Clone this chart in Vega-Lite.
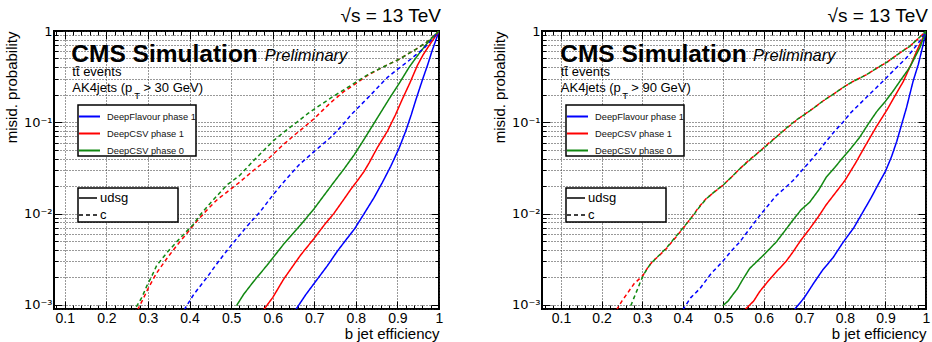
{
  "$schema": "https://vega.github.io/schema/vega-lite/v6.json",
  "padding": {"left": 3, "top": 6, "right": 2, "bottom": 2},
  "bounds": "flush",
  "spacing": 103,
  "config": {
    "font": "Liberation Sans",
    "view": {"stroke": "black", "strokeWidth": 2},
    "axis": {"domain": false, "tickColor": "black", "labelColor": "black", "titleColor": "black", "labelFont": "Liberation Sans", "titleFont": "Liberation Sans", "minExtent": 0},
    "legend": {"strokeWidth": 1.5},
    "title": {"font": "Liberation Sans", "color": "black"}
  },
  "resolve": {
    "scale": {"x": "independent", "y": "independent", "color": "independent", "strokeDash": "independent"},
    "legend": {"color": "independent", "strokeDash": "independent"}
  },
  "datasets": {
    "left": [
      {"tagger": "DeepFlavour phase 1", "flav": "udsg", "eff": 0.655, "mis": 0.00088},
      {"tagger": "DeepFlavour phase 1", "flav": "udsg", "eff": 0.68, "mis": 0.0013},
      {"tagger": "DeepFlavour phase 1", "flav": "udsg", "eff": 0.707, "mis": 0.0019},
      {"tagger": "DeepFlavour phase 1", "flav": "udsg", "eff": 0.732, "mis": 0.0027},
      {"tagger": "DeepFlavour phase 1", "flav": "udsg", "eff": 0.756, "mis": 0.0039},
      {"tagger": "DeepFlavour phase 1", "flav": "udsg", "eff": 0.777, "mis": 0.0052},
      {"tagger": "DeepFlavour phase 1", "flav": "udsg", "eff": 0.797, "mis": 0.0068},
      {"tagger": "DeepFlavour phase 1", "flav": "udsg", "eff": 0.82, "mis": 0.0100},
      {"tagger": "DeepFlavour phase 1", "flav": "udsg", "eff": 0.844, "mis": 0.015},
      {"tagger": "DeepFlavour phase 1", "flav": "udsg", "eff": 0.864, "mis": 0.022},
      {"tagger": "DeepFlavour phase 1", "flav": "udsg", "eff": 0.884, "mis": 0.033},
      {"tagger": "DeepFlavour phase 1", "flav": "udsg", "eff": 0.904, "mis": 0.052},
      {"tagger": "DeepFlavour phase 1", "flav": "udsg", "eff": 0.920, "mis": 0.08},
      {"tagger": "DeepFlavour phase 1", "flav": "udsg", "eff": 0.933, "mis": 0.12},
      {"tagger": "DeepFlavour phase 1", "flav": "udsg", "eff": 0.945, "mis": 0.18},
      {"tagger": "DeepFlavour phase 1", "flav": "udsg", "eff": 0.96, "mis": 0.29},
      {"tagger": "DeepFlavour phase 1", "flav": "udsg", "eff": 0.973, "mis": 0.43},
      {"tagger": "DeepFlavour phase 1", "flav": "udsg", "eff": 0.983, "mis": 0.6},
      {"tagger": "DeepFlavour phase 1", "flav": "udsg", "eff": 0.991, "mis": 0.76},
      {"tagger": "DeepFlavour phase 1", "flav": "udsg", "eff": 1.0, "mis": 1.0},

      {"tagger": "DeepCSV phase 1", "flav": "udsg", "eff": 0.578, "mis": 0.00088},
      {"tagger": "DeepCSV phase 1", "flav": "udsg", "eff": 0.60, "mis": 0.0012},
      {"tagger": "DeepCSV phase 1", "flav": "udsg", "eff": 0.626, "mis": 0.0019},
      {"tagger": "DeepCSV phase 1", "flav": "udsg", "eff": 0.647, "mis": 0.0026},
      {"tagger": "DeepCSV phase 1", "flav": "udsg", "eff": 0.667, "mis": 0.0035},
      {"tagger": "DeepCSV phase 1", "flav": "udsg", "eff": 0.699, "mis": 0.0053},
      {"tagger": "DeepCSV phase 1", "flav": "udsg", "eff": 0.725, "mis": 0.0076},
      {"tagger": "DeepCSV phase 1", "flav": "udsg", "eff": 0.747, "mis": 0.0100},
      {"tagger": "DeepCSV phase 1", "flav": "udsg", "eff": 0.772, "mis": 0.0145},
      {"tagger": "DeepCSV phase 1", "flav": "udsg", "eff": 0.790, "mis": 0.019},
      {"tagger": "DeepCSV phase 1", "flav": "udsg", "eff": 0.804, "mis": 0.023},
      {"tagger": "DeepCSV phase 1", "flav": "udsg", "eff": 0.82, "mis": 0.029},
      {"tagger": "DeepCSV phase 1", "flav": "udsg", "eff": 0.832, "mis": 0.036},
      {"tagger": "DeepCSV phase 1", "flav": "udsg", "eff": 0.852, "mis": 0.053},
      {"tagger": "DeepCSV phase 1", "flav": "udsg", "eff": 0.876, "mis": 0.08},
      {"tagger": "DeepCSV phase 1", "flav": "udsg", "eff": 0.895, "mis": 0.12},
      {"tagger": "DeepCSV phase 1", "flav": "udsg", "eff": 0.912, "mis": 0.18},
      {"tagger": "DeepCSV phase 1", "flav": "udsg", "eff": 0.93, "mis": 0.27},
      {"tagger": "DeepCSV phase 1", "flav": "udsg", "eff": 0.948, "mis": 0.42},
      {"tagger": "DeepCSV phase 1", "flav": "udsg", "eff": 0.962, "mis": 0.55},
      {"tagger": "DeepCSV phase 1", "flav": "udsg", "eff": 0.975, "mis": 0.68},
      {"tagger": "DeepCSV phase 1", "flav": "udsg", "eff": 0.988, "mis": 0.83},
      {"tagger": "DeepCSV phase 1", "flav": "udsg", "eff": 1.0, "mis": 1.0},

      {"tagger": "DeepCSV phase 0", "flav": "udsg", "eff": 0.513, "mis": 0.00098},
      {"tagger": "DeepCSV phase 0", "flav": "udsg", "eff": 0.53, "mis": 0.0013},
      {"tagger": "DeepCSV phase 0", "flav": "udsg", "eff": 0.554, "mis": 0.0018},
      {"tagger": "DeepCSV phase 0", "flav": "udsg", "eff": 0.586, "mis": 0.0027},
      {"tagger": "DeepCSV phase 0", "flav": "udsg", "eff": 0.626, "mis": 0.0046},
      {"tagger": "DeepCSV phase 0", "flav": "udsg", "eff": 0.667, "mis": 0.0075},
      {"tagger": "DeepCSV phase 0", "flav": "udsg", "eff": 0.699, "mis": 0.0112},
      {"tagger": "DeepCSV phase 0", "flav": "udsg", "eff": 0.722, "mis": 0.0155},
      {"tagger": "DeepCSV phase 0", "flav": "udsg", "eff": 0.747, "mis": 0.022},
      {"tagger": "DeepCSV phase 0", "flav": "udsg", "eff": 0.772, "mis": 0.031},
      {"tagger": "DeepCSV phase 0", "flav": "udsg", "eff": 0.796, "mis": 0.044},
      {"tagger": "DeepCSV phase 0", "flav": "udsg", "eff": 0.815, "mis": 0.06},
      {"tagger": "DeepCSV phase 0", "flav": "udsg", "eff": 0.832, "mis": 0.08},
      {"tagger": "DeepCSV phase 0", "flav": "udsg", "eff": 0.856, "mis": 0.12},
      {"tagger": "DeepCSV phase 0", "flav": "udsg", "eff": 0.88, "mis": 0.18},
      {"tagger": "DeepCSV phase 0", "flav": "udsg", "eff": 0.905, "mis": 0.27},
      {"tagger": "DeepCSV phase 0", "flav": "udsg", "eff": 0.928, "mis": 0.40},
      {"tagger": "DeepCSV phase 0", "flav": "udsg", "eff": 0.95, "mis": 0.55},
      {"tagger": "DeepCSV phase 0", "flav": "udsg", "eff": 0.97, "mis": 0.72},
      {"tagger": "DeepCSV phase 0", "flav": "udsg", "eff": 0.985, "mis": 0.86},
      {"tagger": "DeepCSV phase 0", "flav": "udsg", "eff": 1.0, "mis": 1.0},

      {"tagger": "DeepFlavour phase 1", "flav": "c", "eff": 0.387, "mis": 0.00088},
      {"tagger": "DeepFlavour phase 1", "flav": "c", "eff": 0.41, "mis": 0.0013},
      {"tagger": "DeepFlavour phase 1", "flav": "c", "eff": 0.442, "mis": 0.0020},
      {"tagger": "DeepFlavour phase 1", "flav": "c", "eff": 0.47, "mis": 0.0030},
      {"tagger": "DeepFlavour phase 1", "flav": "c", "eff": 0.502, "mis": 0.0046},
      {"tagger": "DeepFlavour phase 1", "flav": "c", "eff": 0.542, "mis": 0.0076},
      {"tagger": "DeepFlavour phase 1", "flav": "c", "eff": 0.57, "mis": 0.0105},
      {"tagger": "DeepFlavour phase 1", "flav": "c", "eff": 0.603, "mis": 0.0165},
      {"tagger": "DeepFlavour phase 1", "flav": "c", "eff": 0.633, "mis": 0.024},
      {"tagger": "DeepFlavour phase 1", "flav": "c", "eff": 0.663, "mis": 0.034},
      {"tagger": "DeepFlavour phase 1", "flav": "c", "eff": 0.70, "mis": 0.048},
      {"tagger": "DeepFlavour phase 1", "flav": "c", "eff": 0.739, "mis": 0.068},
      {"tagger": "DeepFlavour phase 1", "flav": "c", "eff": 0.765, "mis": 0.09},
      {"tagger": "DeepFlavour phase 1", "flav": "c", "eff": 0.788, "mis": 0.12},
      {"tagger": "DeepFlavour phase 1", "flav": "c", "eff": 0.812, "mis": 0.155},
      {"tagger": "DeepFlavour phase 1", "flav": "c", "eff": 0.836, "mis": 0.20},
      {"tagger": "DeepFlavour phase 1", "flav": "c", "eff": 0.856, "mis": 0.25},
      {"tagger": "DeepFlavour phase 1", "flav": "c", "eff": 0.876, "mis": 0.31},
      {"tagger": "DeepFlavour phase 1", "flav": "c", "eff": 0.90, "mis": 0.38},
      {"tagger": "DeepFlavour phase 1", "flav": "c", "eff": 0.924, "mis": 0.46},
      {"tagger": "DeepFlavour phase 1", "flav": "c", "eff": 0.945, "mis": 0.55},
      {"tagger": "DeepFlavour phase 1", "flav": "c", "eff": 0.963, "mis": 0.64},
      {"tagger": "DeepFlavour phase 1", "flav": "c", "eff": 0.98, "mis": 0.78},
      {"tagger": "DeepFlavour phase 1", "flav": "c", "eff": 1.0, "mis": 1.0},

      {"tagger": "DeepCSV phase 1", "flav": "c", "eff": 0.275, "mis": 0.00088},
      {"tagger": "DeepCSV phase 1", "flav": "c", "eff": 0.29, "mis": 0.0012},
      {"tagger": "DeepCSV phase 1", "flav": "c", "eff": 0.30, "mis": 0.0015},
      {"tagger": "DeepCSV phase 1", "flav": "c", "eff": 0.32, "mis": 0.0022},
      {"tagger": "DeepCSV phase 1", "flav": "c", "eff": 0.345, "mis": 0.0032},
      {"tagger": "DeepCSV phase 1", "flav": "c", "eff": 0.37, "mis": 0.0045},
      {"tagger": "DeepCSV phase 1", "flav": "c", "eff": 0.39, "mis": 0.0058},
      {"tagger": "DeepCSV phase 1", "flav": "c", "eff": 0.415, "mis": 0.0080},
      {"tagger": "DeepCSV phase 1", "flav": "c", "eff": 0.44, "mis": 0.0107},
      {"tagger": "DeepCSV phase 1", "flav": "c", "eff": 0.465, "mis": 0.0140},
      {"tagger": "DeepCSV phase 1", "flav": "c", "eff": 0.49, "mis": 0.0172},
      {"tagger": "DeepCSV phase 1", "flav": "c", "eff": 0.52, "mis": 0.022},
      {"tagger": "DeepCSV phase 1", "flav": "c", "eff": 0.555, "mis": 0.030},
      {"tagger": "DeepCSV phase 1", "flav": "c", "eff": 0.59, "mis": 0.040},
      {"tagger": "DeepCSV phase 1", "flav": "c", "eff": 0.62, "mis": 0.054},
      {"tagger": "DeepCSV phase 1", "flav": "c", "eff": 0.65, "mis": 0.071},
      {"tagger": "DeepCSV phase 1", "flav": "c", "eff": 0.675, "mis": 0.088},
      {"tagger": "DeepCSV phase 1", "flav": "c", "eff": 0.70, "mis": 0.11},
      {"tagger": "DeepCSV phase 1", "flav": "c", "eff": 0.72, "mis": 0.135},
      {"tagger": "DeepCSV phase 1", "flav": "c", "eff": 0.74, "mis": 0.165},
      {"tagger": "DeepCSV phase 1", "flav": "c", "eff": 0.77, "mis": 0.215},
      {"tagger": "DeepCSV phase 1", "flav": "c", "eff": 0.80, "mis": 0.265},
      {"tagger": "DeepCSV phase 1", "flav": "c", "eff": 0.83, "mis": 0.33},
      {"tagger": "DeepCSV phase 1", "flav": "c", "eff": 0.864, "mis": 0.40},
      {"tagger": "DeepCSV phase 1", "flav": "c", "eff": 0.904, "mis": 0.49},
      {"tagger": "DeepCSV phase 1", "flav": "c", "eff": 0.944, "mis": 0.63},
      {"tagger": "DeepCSV phase 1", "flav": "c", "eff": 0.97, "mis": 0.75},
      {"tagger": "DeepCSV phase 1", "flav": "c", "eff": 0.99, "mis": 0.9},
      {"tagger": "DeepCSV phase 1", "flav": "c", "eff": 1.0, "mis": 1.0},

      {"tagger": "DeepCSV phase 0", "flav": "c", "eff": 0.272, "mis": 0.00095},
      {"tagger": "DeepCSV phase 0", "flav": "c", "eff": 0.285, "mis": 0.0012},
      {"tagger": "DeepCSV phase 0", "flav": "c", "eff": 0.297, "mis": 0.0016},
      {"tagger": "DeepCSV phase 0", "flav": "c", "eff": 0.31, "mis": 0.0021},
      {"tagger": "DeepCSV phase 0", "flav": "c", "eff": 0.321, "mis": 0.0027},
      {"tagger": "DeepCSV phase 0", "flav": "c", "eff": 0.345, "mis": 0.0037},
      {"tagger": "DeepCSV phase 0", "flav": "c", "eff": 0.369, "mis": 0.0049},
      {"tagger": "DeepCSV phase 0", "flav": "c", "eff": 0.39, "mis": 0.0062},
      {"tagger": "DeepCSV phase 0", "flav": "c", "eff": 0.409, "mis": 0.0076},
      {"tagger": "DeepCSV phase 0", "flav": "c", "eff": 0.425, "mis": 0.0096},
      {"tagger": "DeepCSV phase 0", "flav": "c", "eff": 0.45, "mis": 0.013},
      {"tagger": "DeepCSV phase 0", "flav": "c", "eff": 0.49, "mis": 0.0206},
      {"tagger": "DeepCSV phase 0", "flav": "c", "eff": 0.52, "mis": 0.026},
      {"tagger": "DeepCSV phase 0", "flav": "c", "eff": 0.554, "mis": 0.038},
      {"tagger": "DeepCSV phase 0", "flav": "c", "eff": 0.58, "mis": 0.050},
      {"tagger": "DeepCSV phase 0", "flav": "c", "eff": 0.602, "mis": 0.063},
      {"tagger": "DeepCSV phase 0", "flav": "c", "eff": 0.63, "mis": 0.080},
      {"tagger": "DeepCSV phase 0", "flav": "c", "eff": 0.658, "mis": 0.100},
      {"tagger": "DeepCSV phase 0", "flav": "c", "eff": 0.685, "mis": 0.125},
      {"tagger": "DeepCSV phase 0", "flav": "c", "eff": 0.715, "mis": 0.155},
      {"tagger": "DeepCSV phase 0", "flav": "c", "eff": 0.74, "mis": 0.185},
      {"tagger": "DeepCSV phase 0", "flav": "c", "eff": 0.77, "mis": 0.225},
      {"tagger": "DeepCSV phase 0", "flav": "c", "eff": 0.80, "mis": 0.275},
      {"tagger": "DeepCSV phase 0", "flav": "c", "eff": 0.83, "mis": 0.335},
      {"tagger": "DeepCSV phase 0", "flav": "c", "eff": 0.864, "mis": 0.40},
      {"tagger": "DeepCSV phase 0", "flav": "c", "eff": 0.904, "mis": 0.49},
      {"tagger": "DeepCSV phase 0", "flav": "c", "eff": 0.944, "mis": 0.63},
      {"tagger": "DeepCSV phase 0", "flav": "c", "eff": 0.97, "mis": 0.75},
      {"tagger": "DeepCSV phase 0", "flav": "c", "eff": 0.99, "mis": 0.9},
      {"tagger": "DeepCSV phase 0", "flav": "c", "eff": 1.0, "mis": 1.0}
    ],
    "right": [
      {"tagger": "DeepFlavour phase 1", "flav": "udsg", "eff": 0.675, "mis": 0.00088},
      {"tagger": "DeepFlavour phase 1", "flav": "udsg", "eff": 0.70, "mis": 0.0012},
      {"tagger": "DeepFlavour phase 1", "flav": "udsg", "eff": 0.722, "mis": 0.0017},
      {"tagger": "DeepFlavour phase 1", "flav": "udsg", "eff": 0.745, "mis": 0.0024},
      {"tagger": "DeepFlavour phase 1", "flav": "udsg", "eff": 0.771, "mis": 0.0033},
      {"tagger": "DeepFlavour phase 1", "flav": "udsg", "eff": 0.795, "mis": 0.0048},
      {"tagger": "DeepFlavour phase 1", "flav": "udsg", "eff": 0.822, "mis": 0.0070},
      {"tagger": "DeepFlavour phase 1", "flav": "udsg", "eff": 0.845, "mis": 0.0105},
      {"tagger": "DeepFlavour phase 1", "flav": "udsg", "eff": 0.865, "mis": 0.015},
      {"tagger": "DeepFlavour phase 1", "flav": "udsg", "eff": 0.885, "mis": 0.022},
      {"tagger": "DeepFlavour phase 1", "flav": "udsg", "eff": 0.90, "mis": 0.029},
      {"tagger": "DeepFlavour phase 1", "flav": "udsg", "eff": 0.915, "mis": 0.042},
      {"tagger": "DeepFlavour phase 1", "flav": "udsg", "eff": 0.928, "mis": 0.062},
      {"tagger": "DeepFlavour phase 1", "flav": "udsg", "eff": 0.94, "mis": 0.095},
      {"tagger": "DeepFlavour phase 1", "flav": "udsg", "eff": 0.952, "mis": 0.145},
      {"tagger": "DeepFlavour phase 1", "flav": "udsg", "eff": 0.968, "mis": 0.28},
      {"tagger": "DeepFlavour phase 1", "flav": "udsg", "eff": 0.981, "mis": 0.43},
      {"tagger": "DeepFlavour phase 1", "flav": "udsg", "eff": 0.993, "mis": 0.71},
      {"tagger": "DeepFlavour phase 1", "flav": "udsg", "eff": 1.0, "mis": 1.0},

      {"tagger": "DeepCSV phase 1", "flav": "udsg", "eff": 0.553, "mis": 0.00088},
      {"tagger": "DeepCSV phase 1", "flav": "udsg", "eff": 0.575, "mis": 0.0011},
      {"tagger": "DeepCSV phase 1", "flav": "udsg", "eff": 0.59, "mis": 0.0014},
      {"tagger": "DeepCSV phase 1", "flav": "udsg", "eff": 0.61, "mis": 0.0018},
      {"tagger": "DeepCSV phase 1", "flav": "udsg", "eff": 0.631, "mis": 0.0023},
      {"tagger": "DeepCSV phase 1", "flav": "udsg", "eff": 0.655, "mis": 0.0030},
      {"tagger": "DeepCSV phase 1", "flav": "udsg", "eff": 0.672, "mis": 0.0038},
      {"tagger": "DeepCSV phase 1", "flav": "udsg", "eff": 0.69, "mis": 0.0050},
      {"tagger": "DeepCSV phase 1", "flav": "udsg", "eff": 0.713, "mis": 0.0068},
      {"tagger": "DeepCSV phase 1", "flav": "udsg", "eff": 0.735, "mis": 0.0093},
      {"tagger": "DeepCSV phase 1", "flav": "udsg", "eff": 0.754, "mis": 0.0125},
      {"tagger": "DeepCSV phase 1", "flav": "udsg", "eff": 0.775, "mis": 0.0165},
      {"tagger": "DeepCSV phase 1", "flav": "udsg", "eff": 0.80, "mis": 0.023},
      {"tagger": "DeepCSV phase 1", "flav": "udsg", "eff": 0.825, "mis": 0.035},
      {"tagger": "DeepCSV phase 1", "flav": "udsg", "eff": 0.853, "mis": 0.058},
      {"tagger": "DeepCSV phase 1", "flav": "udsg", "eff": 0.878, "mis": 0.09},
      {"tagger": "DeepCSV phase 1", "flav": "udsg", "eff": 0.903, "mis": 0.135},
      {"tagger": "DeepCSV phase 1", "flav": "udsg", "eff": 0.925, "mis": 0.2},
      {"tagger": "DeepCSV phase 1", "flav": "udsg", "eff": 0.944, "mis": 0.28},
      {"tagger": "DeepCSV phase 1", "flav": "udsg", "eff": 0.962, "mis": 0.42},
      {"tagger": "DeepCSV phase 1", "flav": "udsg", "eff": 0.977, "mis": 0.6},
      {"tagger": "DeepCSV phase 1", "flav": "udsg", "eff": 0.99, "mis": 0.8},
      {"tagger": "DeepCSV phase 1", "flav": "udsg", "eff": 1.0, "mis": 1.0},

      {"tagger": "DeepCSV phase 0", "flav": "udsg", "eff": 0.499, "mis": 0.00098},
      {"tagger": "DeepCSV phase 0", "flav": "udsg", "eff": 0.512, "mis": 0.0011},
      {"tagger": "DeepCSV phase 0", "flav": "udsg", "eff": 0.524, "mis": 0.0013},
      {"tagger": "DeepCSV phase 0", "flav": "udsg", "eff": 0.535, "mis": 0.0015},
      {"tagger": "DeepCSV phase 0", "flav": "udsg", "eff": 0.545, "mis": 0.0018},
      {"tagger": "DeepCSV phase 0", "flav": "udsg", "eff": 0.565, "mis": 0.0025},
      {"tagger": "DeepCSV phase 0", "flav": "udsg", "eff": 0.59, "mis": 0.0032},
      {"tagger": "DeepCSV phase 0", "flav": "udsg", "eff": 0.602, "mis": 0.0036},
      {"tagger": "DeepCSV phase 0", "flav": "udsg", "eff": 0.631, "mis": 0.0049},
      {"tagger": "DeepCSV phase 0", "flav": "udsg", "eff": 0.65, "mis": 0.0063},
      {"tagger": "DeepCSV phase 0", "flav": "udsg", "eff": 0.672, "mis": 0.0085},
      {"tagger": "DeepCSV phase 0", "flav": "udsg", "eff": 0.692, "mis": 0.011},
      {"tagger": "DeepCSV phase 0", "flav": "udsg", "eff": 0.713, "mis": 0.0133},
      {"tagger": "DeepCSV phase 0", "flav": "udsg", "eff": 0.735, "mis": 0.018},
      {"tagger": "DeepCSV phase 0", "flav": "udsg", "eff": 0.754, "mis": 0.025},
      {"tagger": "DeepCSV phase 0", "flav": "udsg", "eff": 0.775, "mis": 0.032},
      {"tagger": "DeepCSV phase 0", "flav": "udsg", "eff": 0.795, "mis": 0.041},
      {"tagger": "DeepCSV phase 0", "flav": "udsg", "eff": 0.815, "mis": 0.052},
      {"tagger": "DeepCSV phase 0", "flav": "udsg", "eff": 0.836, "mis": 0.068},
      {"tagger": "DeepCSV phase 0", "flav": "udsg", "eff": 0.857, "mis": 0.095},
      {"tagger": "DeepCSV phase 0", "flav": "udsg", "eff": 0.878, "mis": 0.13},
      {"tagger": "DeepCSV phase 0", "flav": "udsg", "eff": 0.90, "mis": 0.17},
      {"tagger": "DeepCSV phase 0", "flav": "udsg", "eff": 0.919, "mis": 0.22},
      {"tagger": "DeepCSV phase 0", "flav": "udsg", "eff": 0.94, "mis": 0.30},
      {"tagger": "DeepCSV phase 0", "flav": "udsg", "eff": 0.96, "mis": 0.40},
      {"tagger": "DeepCSV phase 0", "flav": "udsg", "eff": 0.985, "mis": 0.66},
      {"tagger": "DeepCSV phase 0", "flav": "udsg", "eff": 1.0, "mis": 1.0},

      {"tagger": "DeepFlavour phase 1", "flav": "c", "eff": 0.40, "mis": 0.00088},
      {"tagger": "DeepFlavour phase 1", "flav": "c", "eff": 0.42, "mis": 0.0012},
      {"tagger": "DeepFlavour phase 1", "flav": "c", "eff": 0.442, "mis": 0.0015},
      {"tagger": "DeepFlavour phase 1", "flav": "c", "eff": 0.47, "mis": 0.0022},
      {"tagger": "DeepFlavour phase 1", "flav": "c", "eff": 0.499, "mis": 0.0030},
      {"tagger": "DeepFlavour phase 1", "flav": "c", "eff": 0.52, "mis": 0.0039},
      {"tagger": "DeepFlavour phase 1", "flav": "c", "eff": 0.541, "mis": 0.0049},
      {"tagger": "DeepFlavour phase 1", "flav": "c", "eff": 0.565, "mis": 0.0068},
      {"tagger": "DeepFlavour phase 1", "flav": "c", "eff": 0.59, "mis": 0.0095},
      {"tagger": "DeepFlavour phase 1", "flav": "c", "eff": 0.61, "mis": 0.0122},
      {"tagger": "DeepFlavour phase 1", "flav": "c", "eff": 0.631, "mis": 0.0158},
      {"tagger": "DeepFlavour phase 1", "flav": "c", "eff": 0.652, "mis": 0.019},
      {"tagger": "DeepFlavour phase 1", "flav": "c", "eff": 0.672, "mis": 0.023},
      {"tagger": "DeepFlavour phase 1", "flav": "c", "eff": 0.692, "mis": 0.029},
      {"tagger": "DeepFlavour phase 1", "flav": "c", "eff": 0.713, "mis": 0.037},
      {"tagger": "DeepFlavour phase 1", "flav": "c", "eff": 0.735, "mis": 0.048},
      {"tagger": "DeepFlavour phase 1", "flav": "c", "eff": 0.754, "mis": 0.062},
      {"tagger": "DeepFlavour phase 1", "flav": "c", "eff": 0.775, "mis": 0.08},
      {"tagger": "DeepFlavour phase 1", "flav": "c", "eff": 0.795, "mis": 0.10},
      {"tagger": "DeepFlavour phase 1", "flav": "c", "eff": 0.815, "mis": 0.128},
      {"tagger": "DeepFlavour phase 1", "flav": "c", "eff": 0.836, "mis": 0.158},
      {"tagger": "DeepFlavour phase 1", "flav": "c", "eff": 0.857, "mis": 0.195},
      {"tagger": "DeepFlavour phase 1", "flav": "c", "eff": 0.878, "mis": 0.24},
      {"tagger": "DeepFlavour phase 1", "flav": "c", "eff": 0.90, "mis": 0.30},
      {"tagger": "DeepFlavour phase 1", "flav": "c", "eff": 0.919, "mis": 0.365},
      {"tagger": "DeepFlavour phase 1", "flav": "c", "eff": 0.935, "mis": 0.43},
      {"tagger": "DeepFlavour phase 1", "flav": "c", "eff": 0.952, "mis": 0.51},
      {"tagger": "DeepFlavour phase 1", "flav": "c", "eff": 0.97, "mis": 0.64},
      {"tagger": "DeepFlavour phase 1", "flav": "c", "eff": 0.985, "mis": 0.78},
      {"tagger": "DeepFlavour phase 1", "flav": "c", "eff": 1.0, "mis": 1.0},

      {"tagger": "DeepCSV phase 1", "flav": "c", "eff": 0.237, "mis": 0.00088},
      {"tagger": "DeepCSV phase 1", "flav": "c", "eff": 0.25, "mis": 0.0011},
      {"tagger": "DeepCSV phase 1", "flav": "c", "eff": 0.26, "mis": 0.00127},
      {"tagger": "DeepCSV phase 1", "flav": "c", "eff": 0.28, "mis": 0.0017},
      {"tagger": "DeepCSV phase 1", "flav": "c", "eff": 0.302, "mis": 0.0021},
      {"tagger": "DeepCSV phase 1", "flav": "c", "eff": 0.315, "mis": 0.0026},
      {"tagger": "DeepCSV phase 1", "flav": "c", "eff": 0.326, "mis": 0.0030},
      {"tagger": "DeepCSV phase 1", "flav": "c", "eff": 0.34, "mis": 0.0034},
      {"tagger": "DeepCSV phase 1", "flav": "c", "eff": 0.359, "mis": 0.0041},
      {"tagger": "DeepCSV phase 1", "flav": "c", "eff": 0.38, "mis": 0.0053},
      {"tagger": "DeepCSV phase 1", "flav": "c", "eff": 0.40, "mis": 0.0068},
      {"tagger": "DeepCSV phase 1", "flav": "c", "eff": 0.425, "mis": 0.0095},
      {"tagger": "DeepCSV phase 1", "flav": "c", "eff": 0.44, "mis": 0.0118},
      {"tagger": "DeepCSV phase 1", "flav": "c", "eff": 0.458, "mis": 0.0146},
      {"tagger": "DeepCSV phase 1", "flav": "c", "eff": 0.48, "mis": 0.0175},
      {"tagger": "DeepCSV phase 1", "flav": "c", "eff": 0.499, "mis": 0.0204},
      {"tagger": "DeepCSV phase 1", "flav": "c", "eff": 0.52, "mis": 0.025},
      {"tagger": "DeepCSV phase 1", "flav": "c", "eff": 0.541, "mis": 0.031},
      {"tagger": "DeepCSV phase 1", "flav": "c", "eff": 0.565, "mis": 0.039},
      {"tagger": "DeepCSV phase 1", "flav": "c", "eff": 0.59, "mis": 0.048},
      {"tagger": "DeepCSV phase 1", "flav": "c", "eff": 0.61, "mis": 0.058},
      {"tagger": "DeepCSV phase 1", "flav": "c", "eff": 0.631, "mis": 0.069},
      {"tagger": "DeepCSV phase 1", "flav": "c", "eff": 0.655, "mis": 0.085},
      {"tagger": "DeepCSV phase 1", "flav": "c", "eff": 0.679, "mis": 0.104},
      {"tagger": "DeepCSV phase 1", "flav": "c", "eff": 0.70, "mis": 0.122},
      {"tagger": "DeepCSV phase 1", "flav": "c", "eff": 0.72, "mis": 0.14},
      {"tagger": "DeepCSV phase 1", "flav": "c", "eff": 0.745, "mis": 0.17},
      {"tagger": "DeepCSV phase 1", "flav": "c", "eff": 0.769, "mis": 0.20},
      {"tagger": "DeepCSV phase 1", "flav": "c", "eff": 0.795, "mis": 0.24},
      {"tagger": "DeepCSV phase 1", "flav": "c", "eff": 0.82, "mis": 0.28},
      {"tagger": "DeepCSV phase 1", "flav": "c", "eff": 0.852, "mis": 0.33},
      {"tagger": "DeepCSV phase 1", "flav": "c", "eff": 0.878, "mis": 0.39},
      {"tagger": "DeepCSV phase 1", "flav": "c", "eff": 0.905, "mis": 0.46},
      {"tagger": "DeepCSV phase 1", "flav": "c", "eff": 0.934, "mis": 0.57},
      {"tagger": "DeepCSV phase 1", "flav": "c", "eff": 0.96, "mis": 0.68},
      {"tagger": "DeepCSV phase 1", "flav": "c", "eff": 0.98, "mis": 0.82},
      {"tagger": "DeepCSV phase 1", "flav": "c", "eff": 1.0, "mis": 1.0},

      {"tagger": "DeepCSV phase 0", "flav": "c", "eff": 0.272, "mis": 0.00098},
      {"tagger": "DeepCSV phase 0", "flav": "c", "eff": 0.28, "mis": 0.0012},
      {"tagger": "DeepCSV phase 0", "flav": "c", "eff": 0.289, "mis": 0.0015},
      {"tagger": "DeepCSV phase 0", "flav": "c", "eff": 0.296, "mis": 0.0018},
      {"tagger": "DeepCSV phase 0", "flav": "c", "eff": 0.305, "mis": 0.0022},
      {"tagger": "DeepCSV phase 0", "flav": "c", "eff": 0.318, "mis": 0.0027},
      {"tagger": "DeepCSV phase 0", "flav": "c", "eff": 0.33, "mis": 0.0031},
      {"tagger": "DeepCSV phase 0", "flav": "c", "eff": 0.345, "mis": 0.0036},
      {"tagger": "DeepCSV phase 0", "flav": "c", "eff": 0.36, "mis": 0.0042},
      {"tagger": "DeepCSV phase 0", "flav": "c", "eff": 0.38, "mis": 0.0054},
      {"tagger": "DeepCSV phase 0", "flav": "c", "eff": 0.40, "mis": 0.0069},
      {"tagger": "DeepCSV phase 0", "flav": "c", "eff": 0.425, "mis": 0.0094},
      {"tagger": "DeepCSV phase 0", "flav": "c", "eff": 0.44, "mis": 0.0116},
      {"tagger": "DeepCSV phase 0", "flav": "c", "eff": 0.458, "mis": 0.0145},
      {"tagger": "DeepCSV phase 0", "flav": "c", "eff": 0.48, "mis": 0.0176},
      {"tagger": "DeepCSV phase 0", "flav": "c", "eff": 0.499, "mis": 0.0204},
      {"tagger": "DeepCSV phase 0", "flav": "c", "eff": 0.52, "mis": 0.025},
      {"tagger": "DeepCSV phase 0", "flav": "c", "eff": 0.541, "mis": 0.031},
      {"tagger": "DeepCSV phase 0", "flav": "c", "eff": 0.565, "mis": 0.0385},
      {"tagger": "DeepCSV phase 0", "flav": "c", "eff": 0.59, "mis": 0.048},
      {"tagger": "DeepCSV phase 0", "flav": "c", "eff": 0.61, "mis": 0.057},
      {"tagger": "DeepCSV phase 0", "flav": "c", "eff": 0.631, "mis": 0.069},
      {"tagger": "DeepCSV phase 0", "flav": "c", "eff": 0.655, "mis": 0.086},
      {"tagger": "DeepCSV phase 0", "flav": "c", "eff": 0.679, "mis": 0.105},
      {"tagger": "DeepCSV phase 0", "flav": "c", "eff": 0.70, "mis": 0.121},
      {"tagger": "DeepCSV phase 0", "flav": "c", "eff": 0.72, "mis": 0.14},
      {"tagger": "DeepCSV phase 0", "flav": "c", "eff": 0.745, "mis": 0.17},
      {"tagger": "DeepCSV phase 0", "flav": "c", "eff": 0.769, "mis": 0.20},
      {"tagger": "DeepCSV phase 0", "flav": "c", "eff": 0.795, "mis": 0.24},
      {"tagger": "DeepCSV phase 0", "flav": "c", "eff": 0.82, "mis": 0.28},
      {"tagger": "DeepCSV phase 0", "flav": "c", "eff": 0.852, "mis": 0.33},
      {"tagger": "DeepCSV phase 0", "flav": "c", "eff": 0.878, "mis": 0.39},
      {"tagger": "DeepCSV phase 0", "flav": "c", "eff": 0.905, "mis": 0.46},
      {"tagger": "DeepCSV phase 0", "flav": "c", "eff": 0.934, "mis": 0.57},
      {"tagger": "DeepCSV phase 0", "flav": "c", "eff": 0.96, "mis": 0.68},
      {"tagger": "DeepCSV phase 0", "flav": "c", "eff": 0.98, "mis": 0.82},
      {"tagger": "DeepCSV phase 0", "flav": "c", "eff": 1.0, "mis": 1.0}
    ]
  },
  "hconcat": [
    {
      "width": 385,
      "height": 278,
      "title": {"text": "\u221as = 13 TeV", "anchor": "end", "fontSize": 19, "fontWeight": "normal", "baseline": "alphabetic", "offset": -16, "dx": -2},
      "resolve": {"axis": {"x": "independent", "y": "independent"}},
      "layer": [
        {
          "data": {"name": "left"},
          "mark": {"type": "line", "strokeWidth": 1.5, "clip": true},
          "encoding": {
            "x": {"field": "eff", "type": "quantitative",
              "scale": {"domain": [0.074, 1.0], "nice": false, "zero": false},
              "axis": {"orient": "bottom", "values": [0.08,0.1,0.12,0.14,0.16,0.18,0.2,0.22,0.24,0.26,0.28,0.3,0.32,0.34,0.36,0.38,0.4,0.42,0.44,0.46,0.48,0.5,0.52,0.54,0.56,0.58,0.6,0.62,0.64,0.66,0.68,0.7,0.72,0.74,0.76,0.78,0.8,0.82,0.84,0.86,0.88,0.9,0.92,0.94,0.96,0.98,1],
                "labelExpr": "abs(datum.value*10 - round(datum.value*10)) < 0.01 ? (datum.value > 0.99 ? '1' : format(datum.value, '.1f')) : ''",
                "labelFontSize": 14, "labelPadding": 10, "labelFlush": false, "labelOverlap": false, "labelBound": false,
                "tickSize": {"condition": {"test": "abs(datum.value*10 - round(datum.value*10)) < 0.01", "value": -8}, "value": -4},
                "grid": true, "gridDash": [1, 2], "gridColor": "#333",
                "gridOpacity": {"condition": {"test": "abs(datum.value*10 - round(datum.value*10)) < 0.01", "value": 1}, "value": 0},
                "title": "b jet efficiency", "titleAnchor": "end", "titleFontSize": 15, "titleFontWeight": "normal", "titlePadding": -3}},
            "y": {"field": "mis", "type": "quantitative",
              "scale": {"type": "log", "domain": [0.0009, 1], "nice": false},
              "axis": {"orient": "left", "values": [0.0009,0.001,0.002,0.003,0.004,0.005,0.006,0.007,0.008,0.009,0.01,0.02,0.03,0.04,0.05,0.06,0.07,0.08,0.09,0.1,0.2,0.3,0.4,0.5,0.6,0.7,0.8,0.9,1],
                "labelExpr": "datum.value > 0.95 ? '1' : abs(datum.value - 0.1) < 1e-6 ? '10\u207b\u00b9' : abs(datum.value - 0.01) < 1e-7 ? '10\u207b\u00b2' : abs(datum.value - 0.001) < 1e-8 ? '10\u207b\u00b3' : ''",
                "labelFont": "DejaVu Sans", "labelFontSize": 13, "labelPadding": 10, "labelFlush": false, "labelOverlap": false, "labelBound": false,
                "tickSize": {"condition": {"test": "abs(log(datum.value)/LN10 - round(log(datum.value)/LN10)) < 0.001", "value": -8}, "value": -4},
                "grid": true, "gridDash": [1, 2], "gridColor": "#333",
                "title": "misid. probability", "titleAnchor": "end", "titleFontSize": 15, "titleFontWeight": "normal", "titlePadding": 4}},
            "color": {"field": "tagger", "type": "nominal",
              "scale": {"domain": ["DeepFlavour phase 1", "DeepCSV phase 1", "DeepCSV phase 0"], "range": ["#0000ff", "#ff0000", "#118811"]},
              "legend": {"title": null, "orient": "none", "legendX": 24, "legendY": 74, "direction": "vertical", "symbolType": "stroke", "symbolSize": 441, "symbolStrokeWidth": 2, "labelFontSize": 9.3, "labelOffset": 6, "rowPadding": 0, "padding": 0, "strokeColor": "black", "fillColor": "white", "cornerRadius": 0, "labelColor": "#111", "labelExpr": "'\u2002' + datum.label"}},
            "strokeDash": {"field": "flav", "type": "nominal",
              "scale": {"domain": ["udsg", "c"], "range": [[1, 0], [4, 3]]},
              "legend": {"title": null, "orient": "none", "legendX": 24, "legendY": 157, "direction": "vertical", "symbolType": "stroke", "symbolSize": 324, "symbolStrokeWidth": 1.5, "symbolStrokeColor": "black", "labelFontSize": 13, "labelOffset": 2, "rowPadding": -1.5, "padding": 0, "strokeColor": "black", "fillColor": "white", "cornerRadius": 0, "labelColor": "black", "labelExpr": "datum.label + '\u2003\u2002\u2800\u2800\u2800'"}}
          }
        },
        {
          "data": {"values": [{}]},
          "mark": {"type": "text", "align": "left", "baseline": "alphabetic", "fontSize": 24.5, "fontWeight": "bold", "font": "Liberation Sans"},
          "encoding": {
            "x": {"datum": 0.1157, "type": "quantitative",
              "axis": {"orient": "top", "values": [0.08,0.1,0.12,0.14,0.16,0.18,0.2,0.22,0.24,0.26,0.28,0.3,0.32,0.34,0.36,0.38,0.4,0.42,0.44,0.46,0.48,0.5,0.52,0.54,0.56,0.58,0.6,0.62,0.64,0.66,0.68,0.7,0.72,0.74,0.76,0.78,0.8,0.82,0.84,0.86,0.88,0.9,0.92,0.94,0.96,0.98,1],
                "labels": false, "grid": false, "title": null, "minExtent": 0, "maxExtent": 0,
                "tickSize": {"condition": {"test": "abs(datum.value*10 - round(datum.value*10)) < 0.01", "value": -8}, "value": -4}}},
            "y": {"datum": 0.461, "type": "quantitative",
              "axis": {"orient": "right", "values": [0.0009,0.001,0.002,0.003,0.004,0.005,0.006,0.007,0.008,0.009,0.01,0.02,0.03,0.04,0.05,0.06,0.07,0.08,0.09,0.1,0.2,0.3,0.4,0.5,0.6,0.7,0.8,0.9,1],
                "labels": false, "grid": false, "title": null, "minExtent": 0, "maxExtent": 0,
                "tickSize": {"condition": {"test": "abs(log(datum.value)/LN10 - round(log(datum.value)/LN10)) < 0.001", "value": -8}, "value": -4}}},
            "text": {"value": "CMS Simulation"}
          }
        },
        {
          "data": {"values": [{}]},
          "mark": {"type": "text", "align": "left", "baseline": "alphabetic", "fontSize": 16.5, "fontStyle": "italic", "font": "Liberation Sans"},
          "encoding": {
            "x": {"datum": 0.581, "type": "quantitative", "axis": null},
            "y": {"datum": 0.465, "type": "quantitative", "axis": null},
            "text": {"value": "Preliminary"}
          }
        },
        {
          "data": {"values": [{}]},
          "mark": {"type": "text", "align": "left", "baseline": "alphabetic", "fontSize": 13, "font": "Liberation Sans"},
          "encoding": {
            "x": {"datum": 0.118, "type": "quantitative", "axis": null},
            "y": {"datum": 0.318, "type": "quantitative", "axis": null},
            "text": {"value": "tt\u0304 events"}
          }
        },
        {
          "data": {"values": [{}]},
          "mark": {"type": "text", "align": "left", "baseline": "alphabetic", "fontSize": 13, "font": "Liberation Sans"},
          "encoding": {
            "x": {"datum": 0.118, "type": "quantitative", "axis": null},
            "y": {"datum": 0.2126, "type": "quantitative", "axis": null},
            "text": {"value": "AK4jets (p"}
          }
        },
        {
          "data": {"values": [{}]},
          "mark": {"type": "text", "align": "left", "baseline": "alphabetic", "fontSize": 9.5, "font": "Liberation Sans"},
          "encoding": {
            "x": {"datum": 0.267, "type": "quantitative", "axis": null},
            "y": {"datum": 0.178, "type": "quantitative", "axis": null},
            "text": {"value": "T"}
          }
        },
        {
          "data": {"values": [{}]},
          "mark": {"type": "text", "align": "left", "baseline": "alphabetic", "fontSize": 13, "font": "Liberation Sans"},
          "encoding": {
            "x": {"datum": 0.289, "type": "quantitative", "axis": null},
            "y": {"datum": 0.2126, "type": "quantitative", "axis": null},
            "text": {"value": "> 30 GeV)"}
          }
        }
      ]
    },
    {
      "width": 384,
      "height": 278,
      "title": {"text": "\u221as = 13 TeV", "anchor": "end", "fontSize": 19, "fontWeight": "normal", "baseline": "alphabetic", "offset": -16, "dx": -2},
      "resolve": {"axis": {"x": "independent", "y": "independent"}},
      "layer": [
        {
          "data": {"name": "right"},
          "mark": {"type": "line", "strokeWidth": 1.5, "clip": true},
          "encoding": {
            "x": {"field": "eff", "type": "quantitative",
              "scale": {"domain": [0.053, 1.0], "nice": false, "zero": false},
              "axis": {"orient": "bottom", "values": [0.06,0.08,0.1,0.12,0.14,0.16,0.18,0.2,0.22,0.24,0.26,0.28,0.3,0.32,0.34,0.36,0.38,0.4,0.42,0.44,0.46,0.48,0.5,0.52,0.54,0.56,0.58,0.6,0.62,0.64,0.66,0.68,0.7,0.72,0.74,0.76,0.78,0.8,0.82,0.84,0.86,0.88,0.9,0.92,0.94,0.96,0.98,1],
                "labelExpr": "abs(datum.value*10 - round(datum.value*10)) < 0.01 ? (datum.value > 0.99 ? '1' : format(datum.value, '.1f')) : ''",
                "labelFontSize": 14, "labelPadding": 10, "labelFlush": false, "labelOverlap": false, "labelBound": false,
                "tickSize": {"condition": {"test": "abs(datum.value*10 - round(datum.value*10)) < 0.01", "value": -8}, "value": -4},
                "grid": true, "gridDash": [1, 2], "gridColor": "#333",
                "gridOpacity": {"condition": {"test": "abs(datum.value*10 - round(datum.value*10)) < 0.01", "value": 1}, "value": 0},
                "title": "b jet efficiency", "titleAnchor": "end", "titleFontSize": 15, "titleFontWeight": "normal", "titlePadding": -3}},
            "y": {"field": "mis", "type": "quantitative",
              "scale": {"type": "log", "domain": [0.0009, 1], "nice": false},
              "axis": {"orient": "left", "values": [0.0009,0.001,0.002,0.003,0.004,0.005,0.006,0.007,0.008,0.009,0.01,0.02,0.03,0.04,0.05,0.06,0.07,0.08,0.09,0.1,0.2,0.3,0.4,0.5,0.6,0.7,0.8,0.9,1],
                "labelExpr": "datum.value > 0.95 ? '1' : abs(datum.value - 0.1) < 1e-6 ? '10\u207b\u00b9' : abs(datum.value - 0.01) < 1e-7 ? '10\u207b\u00b2' : abs(datum.value - 0.001) < 1e-8 ? '10\u207b\u00b3' : ''",
                "labelFont": "DejaVu Sans", "labelFontSize": 13, "labelPadding": 10, "labelFlush": false, "labelOverlap": false, "labelBound": false,
                "tickSize": {"condition": {"test": "abs(log(datum.value)/LN10 - round(log(datum.value)/LN10)) < 0.001", "value": -8}, "value": -4},
                "grid": true, "gridDash": [1, 2], "gridColor": "#333",
                "title": "misid. probability", "titleAnchor": "end", "titleFontSize": 15, "titleFontWeight": "normal", "titlePadding": 4}},
            "color": {"field": "tagger", "type": "nominal",
              "scale": {"domain": ["DeepFlavour phase 1", "DeepCSV phase 1", "DeepCSV phase 0"], "range": ["#0000ff", "#ff0000", "#118811"]},
              "legend": {"title": null, "orient": "none", "legendX": 24, "legendY": 74, "direction": "vertical", "symbolType": "stroke", "symbolSize": 441, "symbolStrokeWidth": 2, "labelFontSize": 9.3, "labelOffset": 6, "rowPadding": 0, "padding": 0, "strokeColor": "black", "fillColor": "white", "cornerRadius": 0, "labelColor": "#111", "labelExpr": "'\u2002' + datum.label"}},
            "strokeDash": {"field": "flav", "type": "nominal",
              "scale": {"domain": ["udsg", "c"], "range": [[1, 0], [4, 3]]},
              "legend": {"title": null, "orient": "none", "legendX": 24, "legendY": 157, "direction": "vertical", "symbolType": "stroke", "symbolSize": 324, "symbolStrokeWidth": 1.5, "symbolStrokeColor": "black", "labelFontSize": 13, "labelOffset": 2, "rowPadding": -1.5, "padding": 0, "strokeColor": "black", "fillColor": "white", "cornerRadius": 0, "labelColor": "black", "labelExpr": "datum.label + '\u2003\u2002\u2800\u2800\u2800'"}}
          }
        },
        {
          "data": {"values": [{}]},
          "mark": {"type": "text", "align": "left", "baseline": "alphabetic", "fontSize": 24.5, "fontWeight": "bold", "font": "Liberation Sans"},
          "encoding": {
            "x": {"datum": 0.098, "type": "quantitative",
              "axis": {"orient": "top", "values": [0.06,0.08,0.1,0.12,0.14,0.16,0.18,0.2,0.22,0.24,0.26,0.28,0.3,0.32,0.34,0.36,0.38,0.4,0.42,0.44,0.46,0.48,0.5,0.52,0.54,0.56,0.58,0.6,0.62,0.64,0.66,0.68,0.7,0.72,0.74,0.76,0.78,0.8,0.82,0.84,0.86,0.88,0.9,0.92,0.94,0.96,0.98,1],
                "labels": false, "grid": false, "title": null, "minExtent": 0, "maxExtent": 0,
                "tickSize": {"condition": {"test": "abs(datum.value*10 - round(datum.value*10)) < 0.01", "value": -8}, "value": -4}}},
            "y": {"datum": 0.461, "type": "quantitative",
              "axis": {"orient": "right", "values": [0.0009,0.001,0.002,0.003,0.004,0.005,0.006,0.007,0.008,0.009,0.01,0.02,0.03,0.04,0.05,0.06,0.07,0.08,0.09,0.1,0.2,0.3,0.4,0.5,0.6,0.7,0.8,0.9,1],
                "labels": false, "grid": false, "title": null, "minExtent": 0, "maxExtent": 0,
                "tickSize": {"condition": {"test": "abs(log(datum.value)/LN10 - round(log(datum.value)/LN10)) < 0.001", "value": -8}, "value": -4}}},
            "text": {"value": "CMS Simulation"}
          }
        },
        {
          "data": {"values": [{}]},
          "mark": {"type": "text", "align": "left", "baseline": "alphabetic", "fontSize": 16.5, "fontStyle": "italic", "font": "Liberation Sans"},
          "encoding": {
            "x": {"datum": 0.5734, "type": "quantitative", "axis": null},
            "y": {"datum": 0.465, "type": "quantitative", "axis": null},
            "text": {"value": "Preliminary"}
          }
        },
        {
          "data": {"values": [{}]},
          "mark": {"type": "text", "align": "left", "baseline": "alphabetic", "fontSize": 13, "font": "Liberation Sans"},
          "encoding": {
            "x": {"datum": 0.0995, "type": "quantitative", "axis": null},
            "y": {"datum": 0.318, "type": "quantitative", "axis": null},
            "text": {"value": "tt\u0304 events"}
          }
        },
        {
          "data": {"values": [{}]},
          "mark": {"type": "text", "align": "left", "baseline": "alphabetic", "fontSize": 13, "font": "Liberation Sans"},
          "encoding": {
            "x": {"datum": 0.0995, "type": "quantitative", "axis": null},
            "y": {"datum": 0.2126, "type": "quantitative", "axis": null},
            "text": {"value": "AK4jets (p"}
          }
        },
        {
          "data": {"values": [{}]},
          "mark": {"type": "text", "align": "left", "baseline": "alphabetic", "fontSize": 9.5, "font": "Liberation Sans"},
          "encoding": {
            "x": {"datum": 0.2507, "type": "quantitative", "axis": null},
            "y": {"datum": 0.178, "type": "quantitative", "axis": null},
            "text": {"value": "T"}
          }
        },
        {
          "data": {"values": [{}]},
          "mark": {"type": "text", "align": "left", "baseline": "alphabetic", "fontSize": 13, "font": "Liberation Sans"},
          "encoding": {
            "x": {"datum": 0.273, "type": "quantitative", "axis": null},
            "y": {"datum": 0.2126, "type": "quantitative", "axis": null},
            "text": {"value": "> 90 GeV)"}
          }
        }
      ]
    }
  ]
}
